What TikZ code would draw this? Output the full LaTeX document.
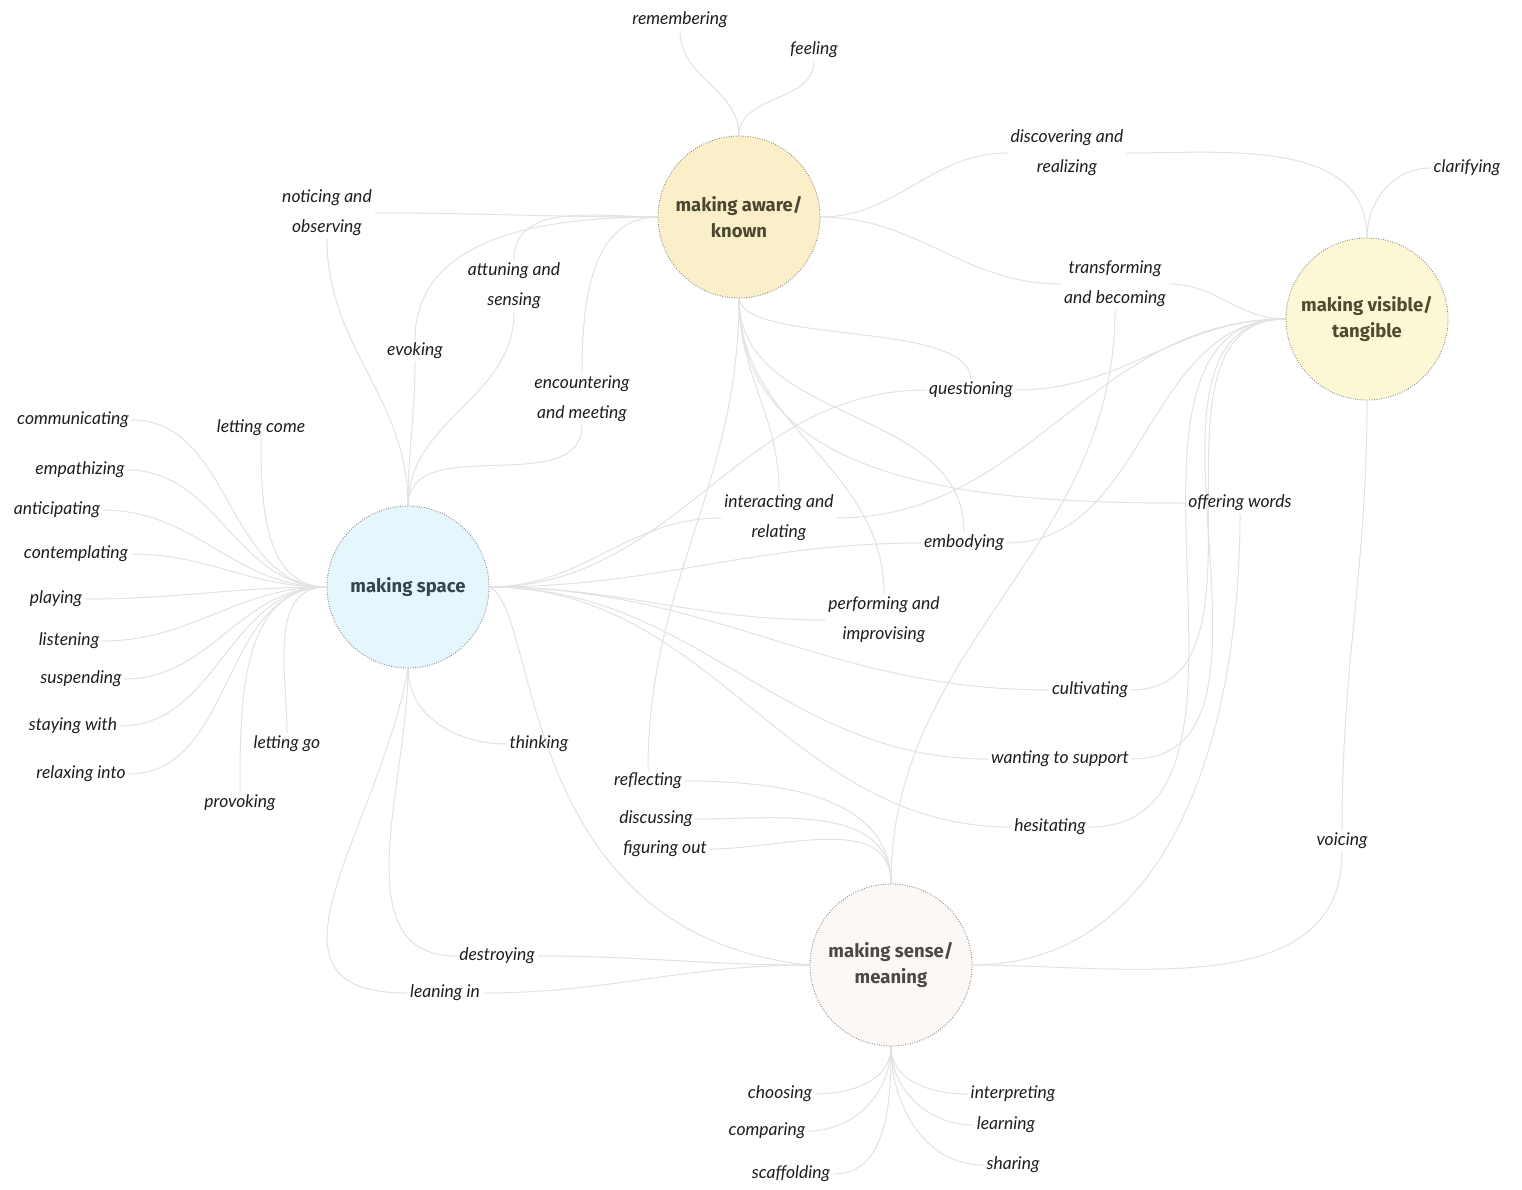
\documentclass[tikz,border=0pt]{standalone}
\usepackage{fontspec}
\newfontfamily\handfont{Lato}
\newfontfamily\hubfont{Fira Sans}
\usetikzlibrary{backgrounds}
\definecolor{conncol}{RGB}{226,226,226}
\definecolor{awarefill}{RGB}{251,239,201}
\definecolor{awaretext}{RGB}{75,70,49}
\definecolor{spacefill}{RGB}{229,246,252}
\definecolor{spacetext}{RGB}{52,69,76}
\definecolor{visfill}{RGB}{252,248,214}
\definecolor{vistext}{RGB}{77,75,48}
\definecolor{sensefill}{RGB}{252,248,245}
\definecolor{sensetext}{RGB}{75,72,72}
\definecolor{labtext}{RGB}{30,30,30}
\begin{document}
\begin{tikzpicture}[x=1pt,y=1pt,
 hub/.style={circle, minimum size=162pt, inner sep=0pt, draw=black!45,
   dash pattern=on 0.9pt off 1.5pt, line width=0.9pt, align=center,
   font=\hubfont\bfseries\fontsize{18.5}{26}\selectfont},
 lab/.style={font=\handfont\itshape\fontsize{17.5}{30}\selectfont,
   align=center, inner sep=3pt, text=labtext},
 conn/.style={draw=conncol, line width=1pt}]
\useasboundingbox (0,0) rectangle (1522,-1189);

% hubs
\node[hub, fill=awarefill, text=awaretext] (A) at (739,-217) {making aware/\\known};
\node[hub, fill=spacefill, text=spacetext] (S) at (408,-587) {making space};
\node[hub, fill=visfill, text=vistext] (V) at (1367,-319) {making visible/\\tangible};
\node[hub, fill=sensefill, text=sensetext] (M) at (891,-965) {making sense/\\meaning};

% labels
\node[lab] (remember) at (680,-20) {remembering};
\node[lab] (feeling) at (814,-50) {feeling};
\node[lab] (discover) at (1067,-153) {discovering and\\realizing};
\node[lab] (clarify) at (1467,-168) {clarifying};
\node[lab] (notice) at (327,-213) {noticing and\\observing};
\node[lab] (attune) at (514,-286) {attuning and\\sensing};
\node[lab] (evoke) at (415,-351) {evoking};
\node[lab] (encounter) at (582,-399) {encountering\\and meeting};
\node[lab] (transform) at (1115,-284) {transforming\\and becoming};
\node[lab] (question) at (971,-390) {questioning};
\node[lab] (comm) at (73,-420) {communicating};
\node[lab] (lcome) at (261,-428) {letting come};
\node[lab] (empath) at (80,-470) {empathizing};
\node[lab] (anticip) at (57,-510) {anticipating};
\node[lab] (contemp) at (76,-554) {contemplating};
\node[lab] (play) at (56,-599) {playing};
\node[lab] (listen) at (69,-641) {listening};
\node[lab] (suspend) at (81,-679) {suspending};
\node[lab] (stay) at (73,-726) {staying with};
\node[lab] (relax) at (81,-774) {relaxing into};
\node[lab] (lgo) at (287,-744) {letting go};
\node[lab] (provoke) at (240,-803) {provoking};
\node[lab] (interact) at (779,-518) {interacting and\\relating};
\node[lab] (embody) at (964,-543) {embodying};
\node[lab] (offer) at (1240,-503) {offering words};
\node[lab] (perform) at (884,-620) {performing and\\improvising};
\node[lab] (cultivate) at (1090,-690) {cultivating};
\node[lab] (want) at (1060,-759) {wanting to support};
\node[lab] (hesitate) at (1050,-827) {hesitating};
\node[lab] (voice) at (1342,-841) {voicing};
\node[lab] (think) at (539,-744) {thinking};
\node[lab] (reflect) at (648,-781) {reflecting};
\node[lab] (discuss) at (656,-819) {discussing};
\node[lab] (figure) at (665,-849) {figuring out};
\node[lab] (destroy) at (497,-956) {destroying};
\node[lab] (lean) at (445,-993) {leaning in};
\node[lab] (choose) at (780,-1094) {choosing};
\node[lab] (compare) at (767,-1131) {comparing};
\node[lab] (scaffold) at (791,-1174) {scaffolding};
\node[lab] (interpret) at (1013,-1094) {interpreting};
\node[lab] (learn) at (1006,-1125) {learning};
\node[lab] (share) at (1013,-1165) {sharing};

\begin{scope}[on background layer]
\fill[white] (0,0) rectangle (1522,-1189);
% making space: left fan
\foreach \n in {comm,empath,anticip,contemp,play,listen,suspend,stay,relax}
  \draw[conn] (S.west) to[out=180,in=0] (\n.east);
\draw[conn] (S.west) to[out=180,in=-90] (lcome.south);
\draw[conn] (S.west) to[out=180,in=90] (lgo.north);
\draw[conn] (S.west) to[out=180,in=90] (provoke.north);
% making space: top
\foreach \n in {notice,evoke,attune,encounter}
  \draw[conn] (S.north) to[out=90,in=-90] (\n.south);
% making aware: left
\draw[conn] (A.west) to[out=180,in=0] (notice.east);
\foreach \n in {attune,evoke,encounter}
  \draw[conn] (A.west) to[out=180,in=90] (\n.north);
% making aware: top
\draw[conn] (A.north) to[out=90,in=-90] (remember.south);
\draw[conn] (A.north) to[out=90,in=-90] (feeling.south);
% making aware: right
\draw[conn] (A.east) to[out=0,in=180] (discover.west);
\draw[conn] (discover.east) to[out=0,in=90] (V.north);
\draw[conn] (V.north) to[out=90,in=180] (clarify.west);
\draw[conn] (A.east) to[out=0,in=180] (transform.west);
\draw[conn] (transform.east) to[out=0,in=180] (V.west);
\draw[conn] (transform.south) to[out=-90,in=90] (M.north);
% making aware: bottom
\draw[conn] (A.south) .. controls (745,-345) and (968,-320) .. (question.north);
\foreach \n in {interact,embody,perform,reflect}
  \draw[conn] (A.south) to[out=-90,in=90] (\n.north);
\draw[conn] (A.south) to[out=-90,in=180] (offer.west);
% making space: right fan
\foreach \n in {question,interact,embody,perform,cultivate,want,hesitate}
  \draw[conn] (S.east) to[out=0,in=180] (\n.west);
\draw[conn] (S.east) .. controls (540,-610) and (515,-935) .. (M.west);
% making visible: left fan
\foreach \n in {question,interact,embody,cultivate,want,hesitate}
  \draw[conn] (\n.east) to[out=0,in=180] (V.west);
\draw[conn] (offer.south) to[out=-90,in=0] (M.east);
\draw[conn] (V.south) to[out=-90,in=90] (voice.north);
\draw[conn] (voice.south) to[out=-90,in=0] (M.east);
% making sense
\draw[conn] (S.south) to[out=-90,in=180] (think.west);
\foreach \n in {reflect,discuss,figure}
  \draw[conn] (\n.east) to[out=0,in=90] (M.north);
\draw[conn] (S.south) to[out=-90,in=180] (destroy.west);
\draw[conn] (destroy.east) to[out=0,in=180] (M.west);
\draw[conn] (S.south) to[out=-100,in=180,looseness=1.3] (lean.west);
\draw[conn] (lean.east) to[out=0,in=180] (M.west);
\foreach \n in {choose,compare,scaffold}
  \draw[conn] (M.south) to[out=-90,in=0] (\n.east);
\foreach \n in {interpret,learn,share}
  \draw[conn] (M.south) to[out=-90,in=180] (\n.west);
\end{scope}
\end{tikzpicture}
\end{document}
